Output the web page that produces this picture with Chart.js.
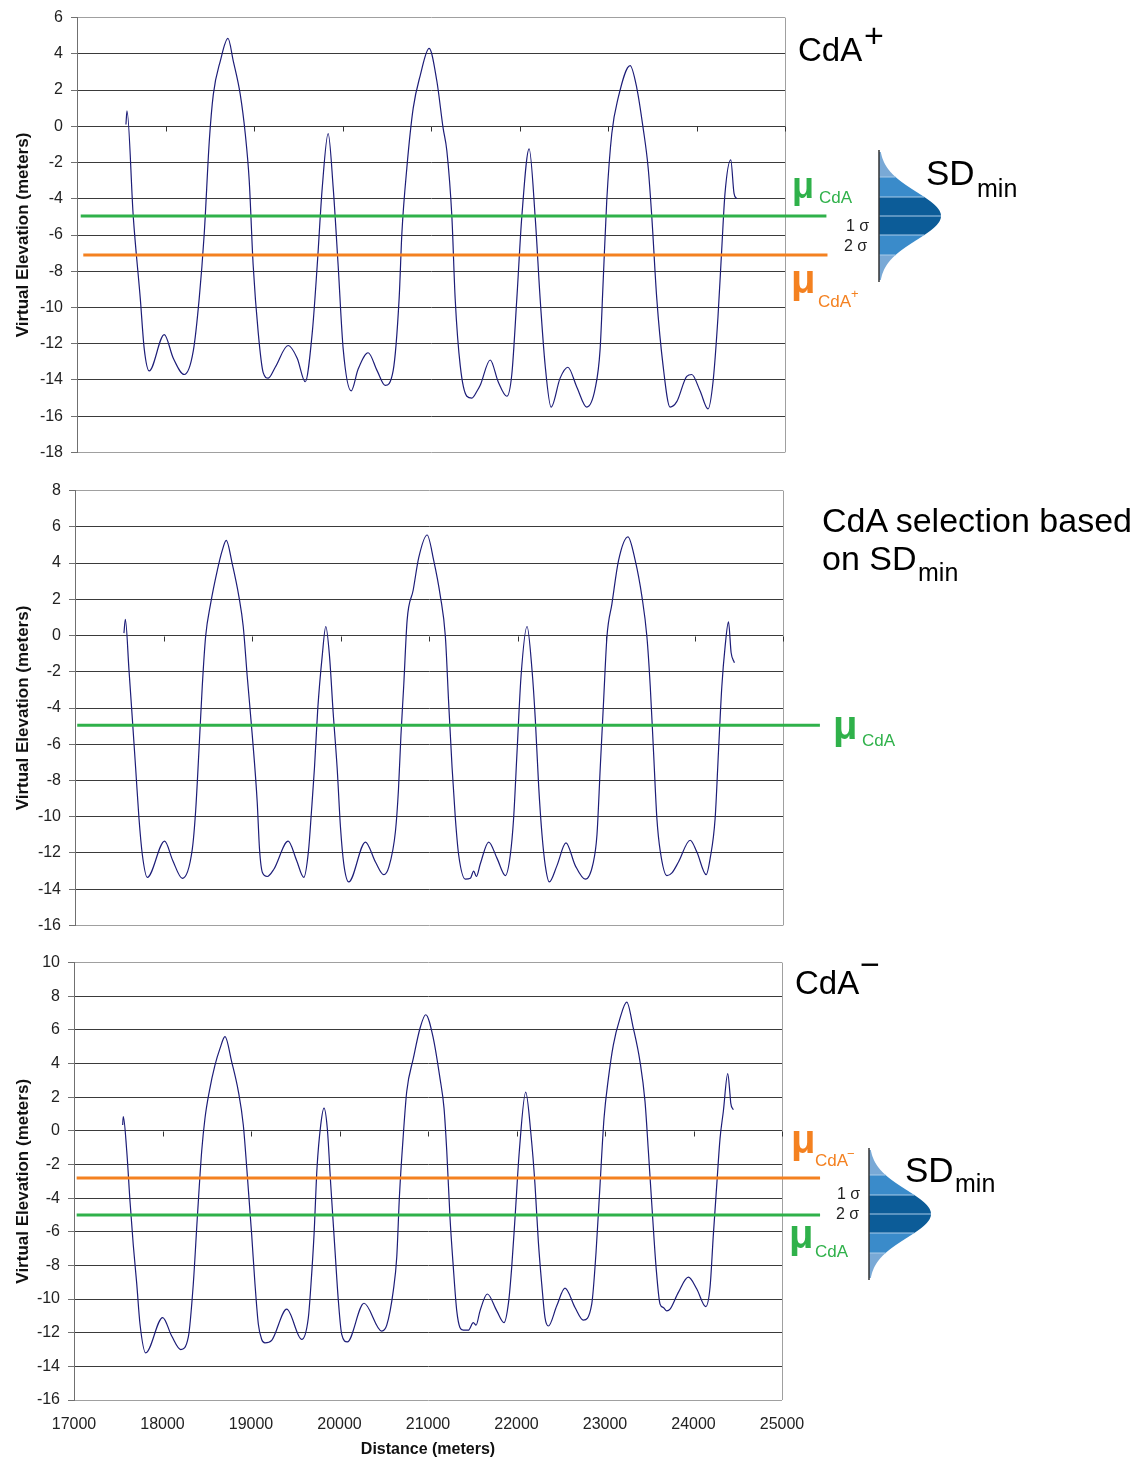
<!DOCTYPE html>
<html>
<head>
<meta charset="utf-8">
<script src="https://cdn.jsdelivr.net/npm/chart.js@4.4.1/dist/chart.umd.min.js"></script>
<style>
  body { margin: 0; background: #fff; width: 1143px; height: 1462px; position: relative; overflow: hidden;
         font-family: "Liberation Sans", Arial, sans-serif; }
  .pane { position: absolute; left: 0; width: 1143px; }
  .lbl { position: absolute; white-space: nowrap; line-height: 1; }
  #bells { position: absolute; left: 0; top: 0; }
</style>
</head>
<body>
<div class="pane" style="top:0;height:470px"><canvas id="cTop"></canvas></div>
<div class="pane" style="top:473px;height:470px"><canvas id="cMid"></canvas></div>
<div class="pane" style="top:945px;height:517px"><canvas id="cBot"></canvas></div>
<svg id="bells" width="1143" height="1462" xmlns="http://www.w3.org/2000/svg"></svg>

<script>
// --- DATA ---
const xTicks = [17000, 18000, 19000, 20000, 21000, 22000, 23000, 24000, 25000];

// top panel (CdA+)
const distTop = [
  17553, 17565, 17636, 17715, 17760, 17816, 17986, 18088, 18212, 18314,
  18381, 18438, 18495, 18540, 18619, 18706, 18766, 18845, 18901, 18946,
  18991, 19048, 19104, 19161, 19240, 19386, 19488, 19579, 19658, 19714,
  19771, 19838, 19895, 19951, 20008, 20098, 20177, 20290, 20392, 20482,
  20572, 20640, 20671, 20727, 20799, 20878, 20979, 21066, 21137, 21179,
  21236, 21273, 21330, 21405, 21462, 21522, 21556, 21669, 21759, 21857,
  21913, 21970, 22026, 22109, 22177, 22233, 22290, 22357, 22459, 22546,
  22648, 22760, 22854, 22911, 22945, 22986, 23043, 23114, 23250, 23326,
  23397, 23454, 23495, 23551, 23622, 23701, 23777, 23890, 23946, 24040,
  24130, 24187, 24243, 24285, 24322, 24387, 24424, 24455
];
const elevTop = [
  0.1, 0.85, -5.0, -9.5, -12.3, -13.5, -11.5, -12.8, -13.7, -12.4,
  -9.5, -5.9, -0.8, 1.75, 3.6, 4.85, 3.6, 1.75, -0.4, -3.0,
  -7.7, -11.4, -13.6, -13.9, -13.3, -12.1, -12.8, -14.1, -11.4, -7.7,
  -3.4, -0.4, -3.4, -7.7, -12.3, -14.6, -13.4, -12.5, -13.5, -14.3,
  -13.5, -9.5, -5.9, -2.3, 1.0, 2.8, 4.3, 2.5, -0.1, -1.35,
  -5.0, -9.5, -13.2, -14.9, -15.0, -14.6, -14.3, -12.9, -14.1, -14.9,
  -13.7, -9.5, -5.0, -1.25, -5.0, -9.5, -13.2, -15.5, -13.9, -13.3,
  -14.4, -15.5, -14.5, -12.3, -8.6, -4.1, -0.4, 1.55, 3.35, 2.1,
  -0.1, -2.3, -5.0, -9.5, -13.2, -15.5, -15.2, -13.8, -13.7, -14.6,
  -15.6, -14.1, -10.5, -6.8, -3.7, -1.85, -3.7, -4.0
];

// middle panel (CdA chosen by SD min)
const distMid = [
  17553, 17569, 17610, 17648, 17685, 17723, 17761, 17817, 18013, 18103,
  18213, 18325, 18363, 18400, 18438, 18476, 18532, 18608, 18664, 18709,
  18777, 18852, 18901, 18946, 19003, 19059, 19085, 19119, 19172, 19247,
  19409, 19503, 19585, 19638, 19672, 19706, 19743, 19793, 19834, 19876,
  19917, 19962, 20000, 20037, 20093, 20282, 20395, 20489, 20545, 20621,
  20655, 20683, 20714, 20753, 20821, 20884, 20979, 21053, 21129, 21185,
  21222, 21261, 21298, 21335, 21411, 21467, 21505, 21535, 21580, 21674,
  21769, 21863, 21919, 21956, 21995, 22040, 22108, 22164, 22201, 22239,
  22277, 22314, 22359, 22446, 22548, 22653, 22766, 22853, 22898, 22935,
  22972, 23011, 23067, 23142, 23248, 23330, 23406, 23462, 23500, 23537,
  23575, 23613, 23688, 23745, 23819, 23951, 24027, 24132, 24177, 24233,
  24271, 24309, 24346, 24384, 24414, 24451
];
const elevMid = [
  0.13, 0.9, -1.9, -4.6, -7.3, -10.1, -12.1, -13.35, -11.35, -12.4,
  -13.4, -11.8, -9.7, -6.4, -2.8, -0.05, 1.75, 3.6, 4.7, 5.25,
  3.95, 2.15, 0.5, -2.25, -5.5, -9.2, -11.8, -13.1, -13.3, -12.9,
  -11.35, -12.4, -13.35, -11.9, -9.7, -7.3, -4.05, -1.15, 0.5, -1.15,
  -4.25, -7.3, -10.6, -12.6, -13.6, -11.4, -12.5, -13.2, -12.8, -10.8,
  -8.5, -5.5, -2.8, 0.85, 2.5, 4.3, 5.55, 4.15, 2.15, -0.05,
  -3.7, -7.3, -10.1, -12.1, -13.45, -13.4, -13.0, -13.3, -12.6, -11.4,
  -12.3, -13.25, -12.1, -10.1, -6.4, -2.25, 0.5, -1.9, -4.6, -8.3,
  -11.0, -12.7, -13.6, -12.7, -11.45, -12.7, -13.45, -12.6, -11.0, -7.3,
  -3.7, -0.05, 1.75, 4.15, 5.45, 4.15, 2.15, -0.05, -2.8, -6.4,
  -10.1, -11.9, -13.25, -13.1, -12.5, -11.3, -11.95, -13.2, -12.3, -10.1,
  -6.4, -2.8, -0.6, 0.75, -0.95, -1.5
];

// bottom panel (CdA-)
const distBot = [
  17550, 17557, 17596, 17633, 17670, 17709, 17746, 17810, 18002, 18104,
  18206, 18292, 18348, 18393, 18443, 18480, 18529, 18593, 18650, 18706,
  18782, 18857, 18913, 18952, 19008, 19045, 19083, 19121, 19158, 19234,
  19404, 19573, 19648, 19678, 19712, 19746, 19788, 19825, 19862, 19901,
  19949, 19987, 20025, 20088, 20277, 20477, 20534, 20608, 20647, 20678,
  20721, 20760, 20834, 20910, 20974, 21060, 21136, 21181, 21212, 21249,
  21286, 21325, 21362, 21399, 21456, 21512, 21543, 21588, 21670, 21777,
  21859, 21910, 21946, 21983, 22032, 22104, 22164, 22209, 22247, 22285,
  22322, 22360, 22455, 22548, 22661, 22755, 22850, 22899, 22944, 22989,
  23038, 23094, 23170, 23246, 23320, 23396, 23452, 23490, 23539, 23577,
  23622, 23659, 23698, 23735, 23829, 23942, 24037, 24138, 24187, 24224,
  24263, 24300, 24337, 24387, 24413, 24421, 24450
];
const elevBot = [
  0.35, 0.85, -1.2, -4.2, -6.8, -9.1, -11.5, -13.2, -11.1, -12.2,
  -13.0, -12.25, -9.1, -5.2, -1.2, 0.75, 2.35, 3.9, 4.9, 5.6,
  4.1, 2.35, 0.35, -2.2, -6.2, -9.1, -11.5, -12.4, -12.6, -12.45,
  -10.6, -12.4, -11.1, -9.1, -6.2, -2.2, 0.35, 1.35, 0.15, -3.2,
  -7.1, -10.1, -12.1, -12.55, -10.25, -11.9, -11.55, -9.5, -7.5, -3.8,
  -0.25, 2.35, 4.3, 6.1, 6.9, 5.5, 3.1, 1.35, -1.2, -5.2,
  -8.1, -10.7, -11.7, -11.85, -11.85, -11.4, -11.55, -10.7, -9.7, -10.7,
  -11.4, -10.2, -8.1, -5.2, -1.2, 2.3, -0.25, -3.2, -6.6, -9.1,
  -11.1, -11.6, -10.4, -9.35, -10.5, -11.25, -10.3, -7.2, -3.2, 0.75,
  3.1, 5.1, 6.7, 7.65, 6.1, 4.1, 1.75, -1.2, -5.2, -8.1,
  -10.3, -10.5, -10.7, -10.6, -9.6, -8.7, -9.4, -10.45, -9.3, -6.2,
  -3.2, -0.45, 1.15, 3.4, 2.15, 1.65, 1.25
];

// mean elevation lines, and the distance span each one is drawn over
const muCdA = [-4.95, -4.95, -5.0];   // green, top / mid / bottom
const muCdAPlus = -7.1;               // orange, top
const muCdAMinus = -2.8;              // orange, bottom
const spanTopGreen = [17042, 25468];
const spanTopOrange = [17071, 25480];
const spanMid = [17025, 25417];
const spanBot = [17030, 25430];

const yTop = [-18, 6];
const yMid = [-16, 8];
const yBot = [-16, 10];

// --- STYLE ---
const GREEN = '#2fb14a';
const ORANGE = '#f48120';
const NAVY = '#1d1d78';
Chart.defaults.font.family = '"Liberation Sans", Arial, sans-serif';

// right frame edge + little x tick marks sitting on the zero line (Excel style)
const frame = {
  id: 'frame',
  beforeDatasetsDraw(chart) {
    const { ctx, chartArea: a, scales: { x, y } } = chart;
    ctx.save();
    ctx.lineWidth = 1;
    ctx.strokeStyle = '#a0a0a0';
    ctx.beginPath();
    ctx.moveTo(Math.round(a.right) + 0.5, a.top);
    ctx.lineTo(Math.round(a.right) + 0.5, a.bottom);
    ctx.stroke();
    const y0 = Math.round(y.getPixelForValue(0)) + 0.5;
    ctx.strokeStyle = '#333';
    ctx.beginPath();
    xTicks.slice(1).forEach(v => {
      const px = Math.round(x.getPixelForValue(v)) + 0.5;
      ctx.moveTo(px, y0);
      ctx.lineTo(px, y0 + 5);
    });
    ctx.stroke();
    ctx.restore();
  }
};

function panel(id, dist, elev, yr, means, box, showX) {
  const sets = means.map(m => ({
    data: [{ x: m.span[0], y: m.v }, { x: m.span[1], y: m.v }],
    borderColor: m.color, borderWidth: 3, pointRadius: 0, clip: false, order: 0
  }));
  sets.push({
    data: dist.map((d, i) => ({ x: d, y: elev[i] })),
    borderColor: NAVY, borderWidth: 1.2, pointRadius: 0,
    cubicInterpolationMode: 'monotone', order: 1
  });
  return new Chart(document.getElementById(id), {
    type: 'line',
    data: { datasets: sets },
    plugins: [frame],
    options: {
      responsive: true, maintainAspectRatio: false, animation: false, events: [],
      layout: { padding: { left: 0, top: 16, right: 1143 - box.right, bottom: showX ? 0 : 15 } },
      plugins: { legend: { display: false }, tooltip: { enabled: false } },
      scales: {
        x: {
          type: 'linear', min: xTicks[0], max: xTicks[xTicks.length - 1], display: showX,
          afterBuildTicks: s => { s.ticks = xTicks.map(v => ({ value: v })); },
          afterFit: s => { s.height = showX ? 62 : 0; },
          grid: { display: false }, border: { display: false },
          ticks: { padding: 7, color: '#222', font: { size: 16 }, maxRotation: 0, autoSkip: false,
                   callback: v => String(v) },
          title: { display: true, text: 'Distance (meters)', color: '#111',
                   font: { size: 16, weight: 'bold' }, padding: { top: 0, bottom: 3 } }
        },
        y: {
          min: yr[0], max: yr[1],
          afterFit: s => { s.width = box.left; },
          ticks: { stepSize: 2, padding: 8, color: '#222', font: { size: 16 } },
          grid: {
            color: c => (c.tick.value === yr[0] || c.tick.value === yr[1]) ? '#a0a0a0' : '#3a3a3a',
            tickColor: '#707070', tickLength: 6
          },
          border: { color: '#707070' },
          title: { display: true, text: 'Virtual Elevation (meters)', color: '#111',
                   font: { size: 17, weight: 'bold' }, padding: { top: 13, bottom: 0 } }
        }
      }
    }
  });
}

panel('cTop', distTop, elevTop, yTop, [
  { v: muCdA[0], span: spanTopGreen, color: GREEN },
  { v: muCdAPlus, span: spanTopOrange, color: ORANGE }
], { left: 77, right: 785 }, false);

panel('cMid', distMid, elevMid, yMid, [
  { v: muCdA[1], span: spanMid, color: GREEN }
], { left: 75, right: 783 }, false);

panel('cBot', distBot, elevBot, yBot, [
  { v: muCdAMinus, span: spanBot, color: ORANGE },
  { v: muCdA[2], span: spanBot, color: GREEN }
], { left: 74, right: 782 }, true);

// --- annotations ---
function label(text, x, base, size, color, bold) {
  const d = document.createElement('div');
  d.className = 'lbl';
  d.textContent = text;
  d.style.left = x + 'px';
  d.style.top = (base - 0.8465 * size) + 'px';
  d.style.fontSize = size + 'px';
  d.style.color = color || '#000';
  if (bold) d.style.fontWeight = 'bold';
  document.body.appendChild(d);
}

// top
label('CdA', 798, 60.5, 33);
label('+', 864, 47, 34);
label('μ', 792, 198.5, 36, GREEN, true);
label('CdA', 819, 203, 17, GREEN);
label('μ', 791, 293, 40, ORANGE, true);
label('CdA', 818, 307, 17, ORANGE);
label('+', 851, 298, 13, ORANGE);
label('1 σ', 846, 232, 16, '#222');
label('2 σ', 844, 252, 16, '#222');
label('SD', 926, 185, 35);
label('min', 977, 197, 25);

// middle
label('CdA selection based', 822, 532, 34);
label('on SD', 822, 570, 34);
label('min', 918, 581, 25);
label('μ', 833, 739, 40, GREEN, true);
label('CdA', 862, 746, 17, GREEN);

// bottom
label('CdA', 795, 994, 33);
label('−', 860, 976, 34);
label('μ', 791, 1153, 40, ORANGE, true);
label('CdA', 815, 1166, 17, ORANGE);
label('−', 847, 1158, 13, ORANGE);
label('1 σ', 837, 1200, 16, '#222');
label('2 σ', 836, 1220, 16, '#222');
label('SD', 905, 1182, 35);
label('min', 955, 1192, 25);
label('μ', 789, 1248, 40, GREEN, true);
label('CdA', 815, 1257, 17, GREEN);

// little normal-distribution glyph next to the SD label
const svg = document.getElementById('bells');
function svgEl(tag, attrs) {
  const e = document.createElementNS('http://www.w3.org/2000/svg', tag);
  for (const k in attrs) e.setAttribute(k, attrs[k]);
  svg.appendChild(e);
  return e;
}
function bell(cx, cy) {
  const A = 62, S = 24, R = 64;
  const f = d => cx + A * Math.exp(-d * d / (2 * S * S));
  const band = (d0, d1, fill) => {
    let p = `M${cx},${cy + d0}`;
    for (let d = d0; d <= d1; d += 1) p += `L${f(d).toFixed(1)},${cy + d}`;
    p += `L${cx},${cy + d1}Z`;
    svgEl('path', { d: p, fill: fill });
  };
  band(-R, -39, '#79a9d6');
  band(-39, -19, '#3a8bca');
  band(-19, 19, '#0c5c98');
  band(19, 39, '#3a8bca');
  band(39, R, '#79a9d6');
  [-39, -19, 0, 19, 39].forEach(d => {
    svgEl('line', { x1: cx, y1: cy + d, x2: f(d), y2: cy + d, stroke: '#a9cbe9', 'stroke-width': 1 });
  });
  svgEl('line', { x1: cx, y1: cy - R - 2, x2: cx, y2: cy + R + 2, stroke: '#333', 'stroke-width': 1.5 });
}
bell(879, 216);
bell(869, 1214);
</script>
</body>
</html>
